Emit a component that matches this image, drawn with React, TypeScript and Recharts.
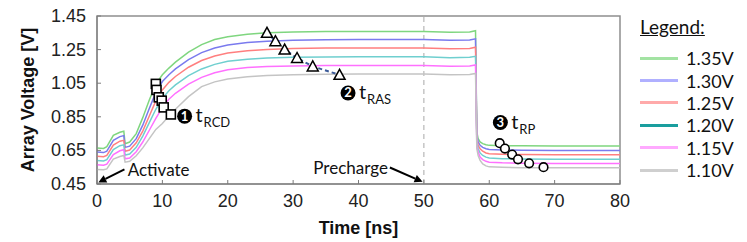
import React from 'react'
import {
  ComposedChart,
  Line,
  Scatter,
  XAxis,
  YAxis,
  ReferenceLine,
  ReferenceArea,
  ReferenceDot,
} from 'recharts'

// time axis (ns)
const times = [0, 1, 1.5, 2.5, 3.5, 4.1, 4.3, 5, 6, 7, 8, 9, 10, 11, 12, 14, 16, 18, 20, 23, 26, 30, 35, 40, 45, 50, 54, 57, 57.9, 58.1, 58.3, 58.6, 59, 59.5, 60, 62, 65, 70, 80]

// array voltage per supply level
const v135 = [0.665, 0.662, 0.672, 0.74, 0.758, 0.764, 0.69, 0.7, 0.75, 0.845, 0.95, 1.045, 1.1, 1.14, 1.175, 1.235, 1.28, 1.31, 1.327, 1.342, 1.35, 1.355, 1.357, 1.357, 1.358, 1.358, 1.353, 1.355, 1.362, 0.76, 0.72, 0.7, 0.69, 0.684, 0.68, 0.678, 0.677, 0.676, 0.676]
const v130 = [0.64, 0.637, 0.645, 0.71, 0.732, 0.738, 0.668, 0.675, 0.72, 0.8, 0.9, 0.995, 1.06, 1.1, 1.135, 1.19, 1.232, 1.26, 1.278, 1.292, 1.3, 1.306, 1.309, 1.31, 1.31, 1.31, 1.305, 1.307, 1.314, 0.74, 0.7, 0.68, 0.668, 0.66, 0.656, 0.653, 0.651, 0.65, 0.65]
const v125 = [0.615, 0.612, 0.62, 0.682, 0.705, 0.71, 0.645, 0.652, 0.695, 0.765, 0.855, 0.945, 1.01, 1.055, 1.09, 1.145, 1.185, 1.212, 1.23, 1.243, 1.25, 1.256, 1.259, 1.26, 1.26, 1.26, 1.255, 1.257, 1.264, 0.72, 0.68, 0.66, 0.645, 0.635, 0.63, 0.627, 0.625, 0.624, 0.624]
const v120 = [0.59, 0.587, 0.595, 0.655, 0.678, 0.683, 0.622, 0.628, 0.668, 0.735, 0.815, 0.895, 0.96, 1.005, 1.04, 1.095, 1.135, 1.162, 1.18, 1.193, 1.2, 1.204, 1.206, 1.207, 1.207, 1.207, 1.202, 1.204, 1.21, 0.7, 0.66, 0.635, 0.62, 0.61, 0.605, 0.601, 0.599, 0.598, 0.598]
const v115 = [0.565, 0.562, 0.568, 0.625, 0.648, 0.654, 0.6, 0.605, 0.642, 0.7, 0.77, 0.84, 0.905, 0.955, 0.99, 1.045, 1.085, 1.112, 1.13, 1.143, 1.15, 1.153, 1.155, 1.156, 1.156, 1.156, 1.151, 1.153, 1.159, 0.68, 0.64, 0.61, 0.595, 0.585, 0.58, 0.576, 0.574, 0.572, 0.572]
const v110 = [0.537, 0.535, 0.54, 0.598, 0.614, 0.62, 0.58, 0.585, 0.618, 0.665, 0.72, 0.775, 0.81, 0.855, 0.895, 0.97, 1.03, 1.058, 1.075, 1.089, 1.096, 1.101, 1.104, 1.105, 1.105, 1.105, 1.1, 1.102, 1.108, 0.66, 0.62, 0.59, 0.57, 0.558, 0.552, 0.549, 0.547, 0.546, 0.546]

const series = [v135, v130, v125, v120, v115, v110]
const names = ['1.35V', '1.30V', '1.25V', '1.20V', '1.15V', '1.10V']
const lineColors = ['#7fd67f', '#7a7aee', '#ff7f7f', '#6fcfcf', '#ff70ff', '#c4c4c4']
const legendColors = ['#a3e3a3', '#b0b0ff', '#ffaaaa', '#1a9e9e', '#ffaaff', '#cfcfcf']

// timing markers
const rcdT = [9.0, 9.1, 9.45, 9.9, 10.2, 11.3]
const rcdV = [1.046, 1.01, 0.966, 0.946, 0.906, 0.864]
const rasT = [26, 27.3, 28.7, 30.6, 33, 37.1]
const rasV = [1.35, 1.3, 1.25, 1.2, 1.15, 1.1]
const rpT = [61.6, 62.4, 63.5, 64.4, 66.1, 68.3]
const rpV = [0.693, 0.661, 0.625, 0.597, 0.573, 0.55]

const xTicks = [0, 10, 20, 30, 40, 50, 60, 70, 80]
const yTicks = [0.45, 0.55, 0.65, 0.75, 0.85, 0.95, 1.05, 1.15, 1.25, 1.35, 1.45]
const yLabels = ['0.45', '0.65', '0.85', '1.05', '1.25', '1.45']

const data = times.map((t, i) => {
  const row: Record<string, number> = { t }
  series.forEach((s, k) => (row['s' + k] = s[i]))
  return row
})

const toPts = (ts: number[], vs: number[]) => ts.map((t, i) => ({ t, v: vs[i] }))

const tickFont = "'Liberation Sans', Arial, sans-serif"
const noteFont = "Lato, 'Open Sans', sans-serif"

const Square = (p: any) => (
  <rect x={p.cx - 4.5} y={p.cy - 4.5} width={9} height={9} fill="#fff" stroke="#000" strokeWidth={1.6} />
)
const Triangle = (p: any) => (
  <polygon
    points={`${p.cx},${p.cy - 5.5} ${p.cx - 5.5},${p.cy + 4.5} ${p.cx + 5.5},${p.cy + 4.5}`}
    fill="#fff"
    stroke="#000"
    strokeWidth={1.5}
  />
)
const Circle = (p: any) => <circle cx={p.cx} cy={p.cy} r={4.3} fill="#fff" stroke="#000" strokeWidth={1.6} />

const YTick = (p: any) => {
  const label = yLabels.find((l) => Math.abs(parseFloat(l) - p.payload.value) < 1e-6)
  if (!label) return <g />
  return (
    <text x={p.x} y={p.y} dy={6} textAnchor="end" fontFamily={tickFont} fontSize={18} fill="#222">
      {label}
    </text>
  )
}

const Note = (n: string, sub: string) => (p: any) => (
  <g>
    <circle cx={p.cx} cy={p.cy} r={7.5} fill="#000" />
    <text x={p.cx} y={p.cy + 4.5} textAnchor="middle" fontFamily={noteFont} fontWeight="bold" fontSize={13} fill="#fff">
      {n}
    </text>
    <text x={p.cx + 11} y={p.cy + 6} fontFamily={noteFont} fontSize={20} fill="#111">
      t
    </text>
    <text x={p.cx + 19} y={p.cy + 11} fontFamily={noteFont} fontSize={13} fill="#111">
      {sub}
    </text>
  </g>
)

const Label = (txt: string, anchor: 'start' | 'end') => (p: any) => (
  <text x={p.cx} y={p.cy + 6} textAnchor={anchor} fontFamily={noteFont} fontSize={17} fill="#111">
    {txt}
  </text>
)

const Arrow = (p: any) => {
  const { x1, y1, x2, y2 } = p
  const a = Math.atan2(y2 - y1, x2 - x1)
  const L = 8
  const w = 4
  const bx = x2 - L * Math.cos(a)
  const by = y2 - L * Math.sin(a)
  const px = -Math.sin(a) * w
  const py = Math.cos(a) * w
  return (
    <g>
      <line x1={x1} y1={y1} x2={bx} y2={by} stroke="#000" strokeWidth={2} />
      <polygon points={`${x2},${y2} ${bx + px},${by + py} ${bx - px},${by - py}`} fill="#000" />
    </g>
  )
}

export default function App() {
  return (
    <div style={{ position: 'absolute', left: 0, top: 0, width: 747, height: 242, background: '#fff' }}>
      <ComposedChart width={747} height={242} data={data} margin={{ top: 16, right: 127, left: 0, bottom: 0 }}>
        <ReferenceArea x1={0} x2={80} y1={0.45} y2={1.45} fill="none" stroke="#8f8f8f" strokeWidth={1.5} />
        <ReferenceLine x={50} stroke="#a8a8a8" strokeDasharray="5 4" strokeWidth={1} />
        <XAxis
          dataKey="t"
          type="number"
          domain={[0, 80]}
          ticks={xTicks}
          height={58}
          tickSize={-4}
          tickMargin={14}
          stroke="#7a7a7a"
          tick={{ fill: '#222', fontSize: 18, fontFamily: tickFont }}
          label={{ value: 'Time [ns]', position: 'insideBottom', offset: 8, fill: '#111', fontSize: 18, fontWeight: 'bold', fontFamily: tickFont }}
        />
        <YAxis
          type="number"
          domain={[0.45, 1.45]}
          ticks={yTicks}
          width={97}
          tickSize={-4}
          tickMargin={15}
          stroke="#7a7a7a"
          tick={<YTick />}
          label={{ value: 'Array Voltage [V]', angle: -90, position: 'insideLeft', offset: 28, fill: '#111', fontSize: 18, fontWeight: 'bold', fontFamily: tickFont, style: { textAnchor: 'middle' } }}
        />
        {series.map((_, k) => (
          <Line
            key={names[k]}
            dataKey={'s' + k}
            name={names[k]}
            type="linear"
            stroke={lineColors[k]}
            strokeWidth={1.5}
            dot={false}
            isAnimationActive={false}
          />
        ))}
        <Scatter data={toPts(rcdT, rcdV)} dataKey="v" shape={Square} isAnimationActive={false} />
        <Scatter
          data={toPts(rasT, rasV)}
          dataKey="v"
          shape={Triangle}
          line={{ stroke: '#3d5c99', strokeDasharray: '4 3', strokeWidth: 2 }}
          isAnimationActive={false}
        />
        <Scatter data={toPts(rpT, rpV)} dataKey="v" shape={Circle} isAnimationActive={false} />
        <ReferenceLine segment={[{ x: 4.2, y: 0.537 }, { x: 0.2, y: 0.459 }]} shape={Arrow} />
        <ReferenceLine segment={[{ x: 44.8, y: 0.548 }, { x: 49.8, y: 0.463 }]} shape={Arrow} />
        <ReferenceDot x={4.7} y={0.531} shape={Label('Activate', 'start')} />
        <ReferenceDot x={44.5} y={0.543} shape={Label('Precharge', 'end')} />
        <ReferenceDot x={13.4} y={0.854} shape={Note('1', 'RCD')} />
        <ReferenceDot x={38.4} y={0.992} shape={Note('2', 'RAS')} />
        <ReferenceDot x={61.7} y={0.816} shape={Note('3', 'RP')} />
      </ComposedChart>
      <div style={{ position: 'absolute', left: 640, top: 14, fontFamily: noteFont, color: '#111' }}>
        <div style={{ fontSize: 19, textDecoration: 'underline', lineHeight: '26px' }}>Legend:</div>
        {names.map((n, k) => (
          <div key={n} style={{ display: 'flex', alignItems: 'center', height: 22.4, marginTop: k === 0 ? 7 : 0 }}>
            <div style={{ width: 38, height: 3, background: legendColors[k] }} />
            <span style={{ marginLeft: 8, fontSize: 18 }}>{n}</span>
          </div>
        ))}
      </div>
    </div>
  )
}
